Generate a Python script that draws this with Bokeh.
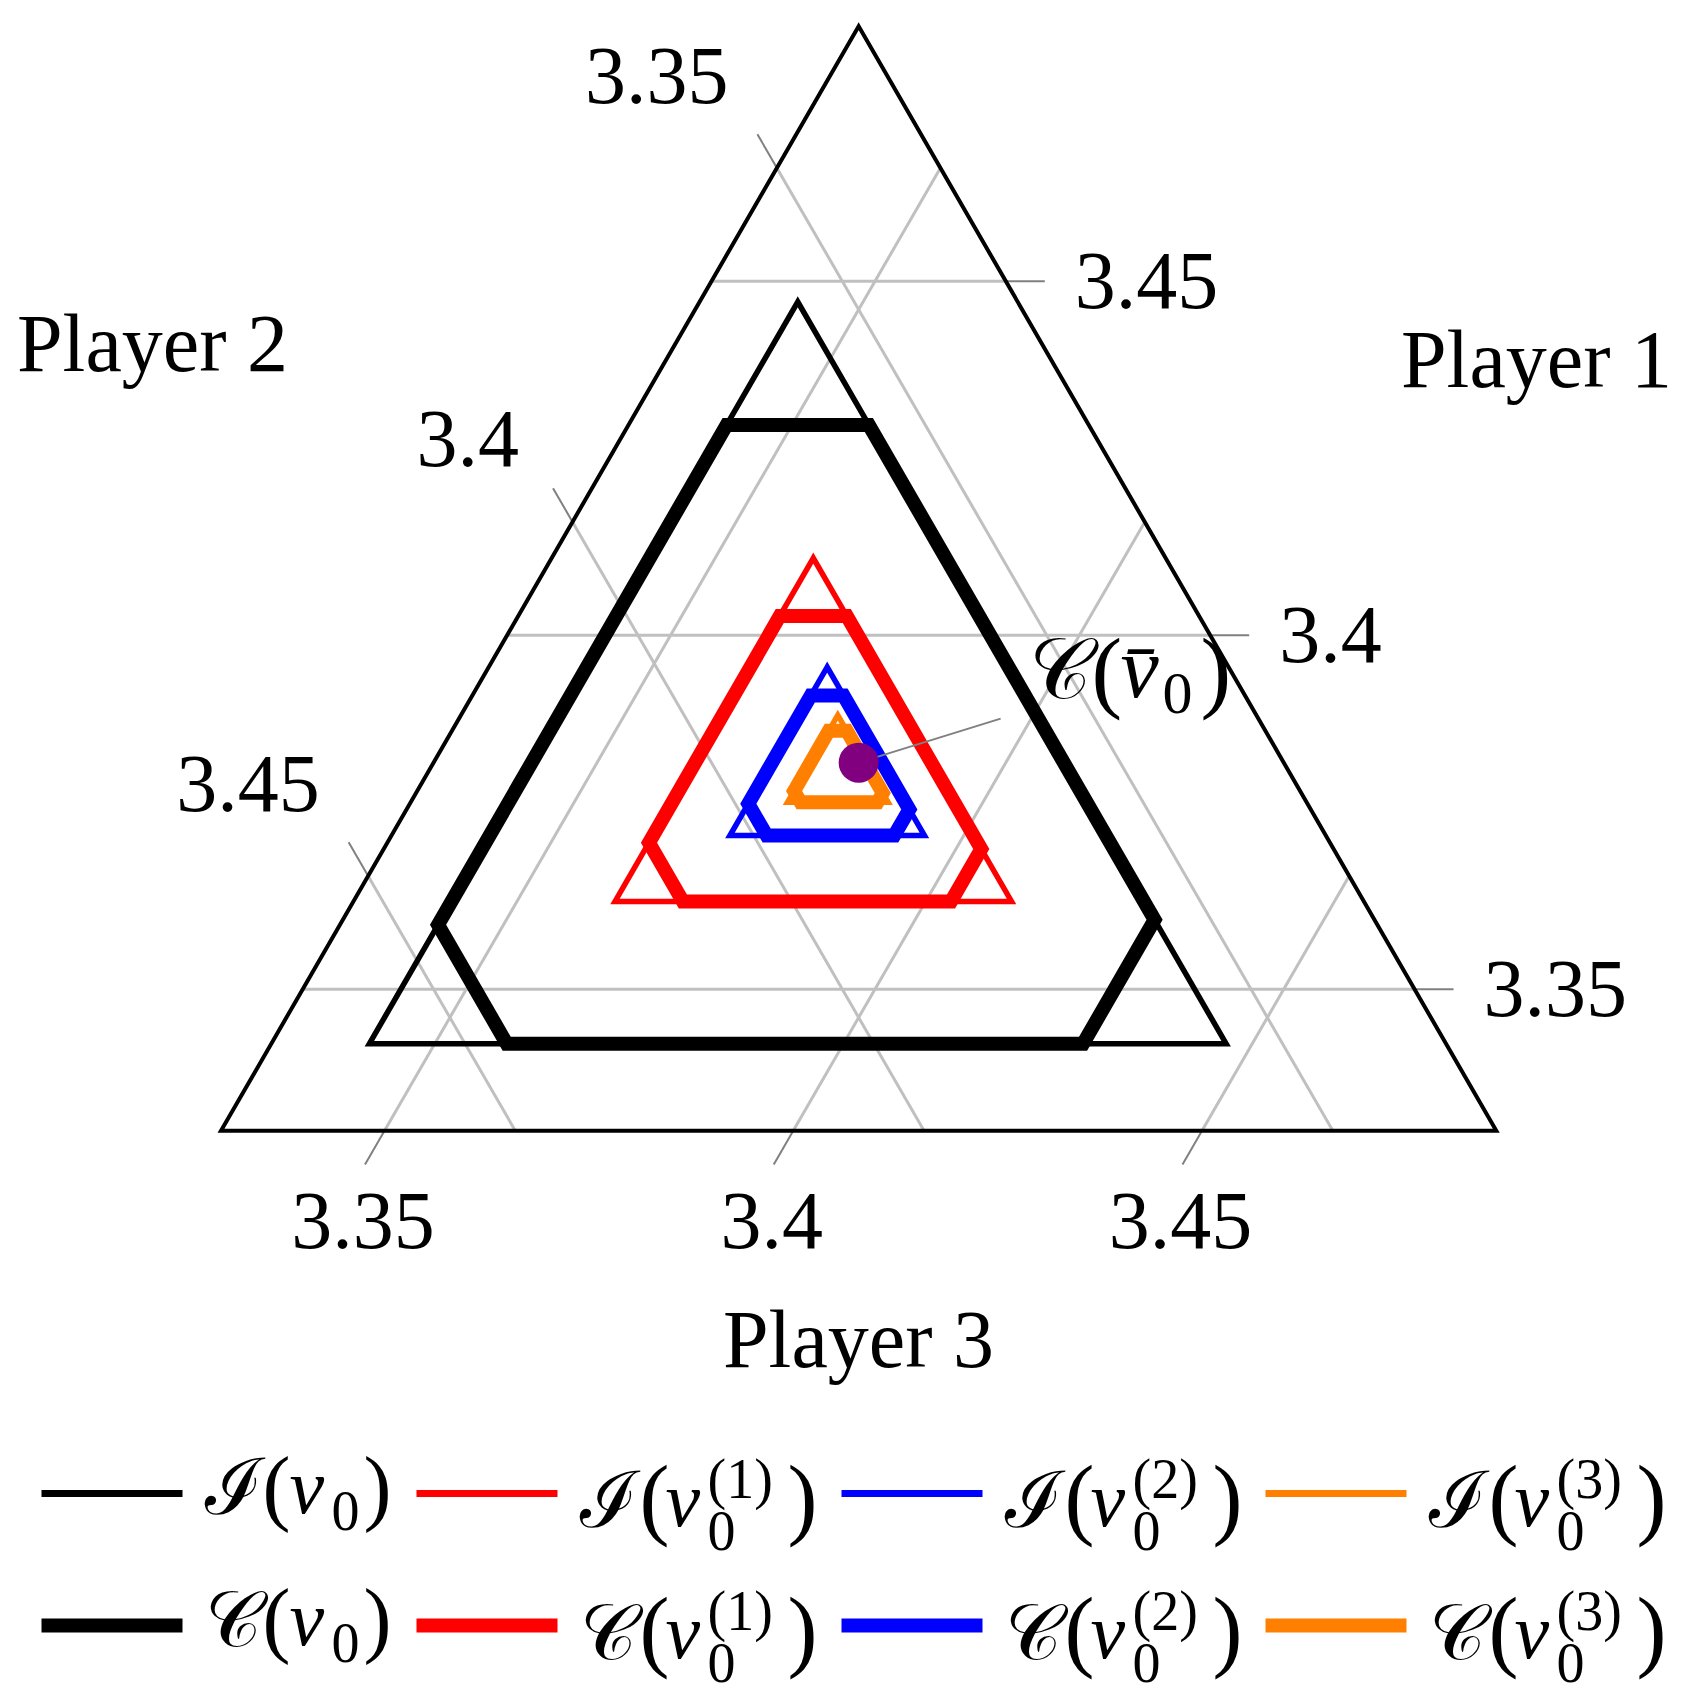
import numpy as np
from bokeh.plotting import figure
from bokeh.models import Range1d
from bokeh.core.properties import value
from bokeh.embed import file_html
from bokeh.resources import INLINE

# ---------------- data (payoffs of Player 1, Player 2, Player 3) ----------------
AX_MIN = 3.33          # value at the zero side of every ternary axis
AX_SPAN = 0.156        # axis span (p1 + p2 + p3 = 3*AX_MIN + AX_SPAN)
TICKS = [3.35, 3.40, 3.45]
TICK_LABELS = ["3.35", "3.4", "3.45"]

# imputation sets I(.) : vertices (Player-1 corner, Player-2 corner, Player-3 corner)
I_v0_p1 = [3.4471, 3.3423, 3.3423]
I_v0_p2 = [3.3569, 3.4617, 3.3569]
I_v0_p3 = [3.3420, 3.3420, 3.4468]
I_v1_p1 = [3.4109, 3.3624, 3.3624]
I_v1_p2 = [3.3731, 3.4216, 3.3731]
I_v1_p3 = [3.3620, 3.3620, 3.4105]
I_v2_p1 = [3.3955, 3.3717, 3.3717]
I_v2_p2 = [3.3791, 3.4029, 3.3791]
I_v2_p3 = [3.3714, 3.3714, 3.3952]
I_v3_p1 = [3.3887, 3.3764, 3.3764]
I_v3_p2 = [3.3812, 3.3935, 3.3812]
I_v3_p3 = [3.3761, 3.3761, 3.3884]

# cores C(.) : hexagon vertices
C_v0_p1 = [3.4297, 3.4297, 3.3598, 3.3423, 3.3423, 3.3591]
C_v0_p2 = [3.3743, 3.3569, 3.3569, 3.3744, 3.4449, 3.4449]
C_v0_p3 = [3.3420, 3.3594, 3.4293, 3.4293, 3.3588, 3.3420]
C_v1_p1 = [3.4027, 3.4027, 3.3698, 3.3624, 3.3624, 3.3707]
C_v1_p2 = [3.3813, 3.3731, 3.3731, 3.3805, 3.4133, 3.4133]
C_v1_p3 = [3.3620, 3.3702, 3.4031, 3.4031, 3.3703, 3.3620]
C_v2_p1 = [3.3915, 3.3915, 3.3754, 3.3717, 3.3717, 3.3762]
C_v2_p2 = [3.3831, 3.3791, 3.3791, 3.3828, 3.3984, 3.3984]
C_v2_p3 = [3.3714, 3.3754, 3.3915, 3.3915, 3.3759, 3.3714]
C_v3_p1 = [3.3865, 3.3865, 3.3777, 3.3764, 3.3764, 3.3780]
C_v3_p2 = [3.3834, 3.3812, 3.3812, 3.3825, 3.3919, 3.3919]
C_v3_p3 = [3.3761, 3.3783, 3.3871, 3.3871, 3.3777, 3.3761]

# core of v-bar_0 (single point)
CBAR_p1 = [3.3820]
CBAR_p2 = [3.3820]
CBAR_p3 = [3.3820]

SERIES_COLORS = ["#000000", "#ff0000", "#0000ff", "#ff8000"]
AXIS_TITLES = ["Player 1", "Player 2", "Player 3"]

# ---------------- geometry ----------------
SQ = np.sqrt(3) / 2
S = 1275.3             # px per triangle side
OX, OY = 220.5, 1130.3 # page position of the Player-2 corner
W, H = 1690, 1704

def to_xy(p1, p3):
    f1 = (np.asarray(p1, float) - AX_MIN) / AX_SPAN
    f3 = (np.asarray(p3, float) - AX_MIN) / AX_SPAN
    return list(f3 + 0.5 * f1), list(SQ * f1)

def pg(X, Y):
    return (X - OX) / S, (OY - Y) / S

p = figure(width=W, height=H, output_backend="svg", toolbar_location=None,
           x_range=Range1d((0 - OX) / S, (W - OX) / S),
           y_range=Range1d((OY - H) / S, (OY - 0) / S),
           min_border=0, x_axis_location=None, y_axis_location=None)
p.grid.visible = False
p.outline_line_color = None
p.background_fill_color = "white"
p.border_fill_color = "white"

SERIF = "Liberation Serif"
SCRIPT = "DejaVu Serif"

def txt(x, y, s, size, align="left", italic=False, font=SERIF, color="black"):
    """y is the vertical middle of the text (about the centre of digits/capitals)."""
    p.text(x=[x], y=[y], text=[s], text_font=value(font),
           text_font_size=f"{size}px", text_align=align,
           text_baseline="middle", text_color=color,
           text_font_style="italic" if italic else "normal")

def txtb(X, B, s, size, italic=False, font=SERIF):
    """place text by page x (left) and page baseline B."""
    x, y = pg(X, B - 0.34 * size)
    txt(x, y, s, size, "left", italic, font)

# ---------------- grid, ticks, tick labels ----------------
TL = 39 / S
FS = 82
for t, lab in zip(TICKS, TICK_LABELS):
    f = (t - AX_MIN) / AX_SPAN
    # Player 1 (horizontal lines)
    p.line([0.5 * f, 1 - 0.5 * f], [SQ * f, SQ * f], line_color="#c0c0c0", line_width=3)
    ex, ey = 1 - 0.5 * f, SQ * f
    p.line([ex, ex + TL], [ey, ey], line_color="#808080", line_width=2)
    txt(ex + TL + 30 / S, ey, lab, FS, "left")
    # Player 2 (parallel to right side)
    p.line([1 - f, 0.5 * (1 - f)], [0, SQ * (1 - f)], line_color="#c0c0c0", line_width=3)
    ex, ey = 0.5 * (1 - f), SQ * (1 - f)
    tx, ty = ex - 0.5 * TL, ey + SQ * TL
    p.line([ex, tx], [ey, ty], line_color="#808080", line_width=2)
    nd = sum(c.isdigit() for c in lab)
    w = FS * (0.5 * nd + 0.25)
    dist = (40 + 0.433 * w + 14) / S
    txt(tx - SQ * dist, ty + 0.5 * dist, lab, FS, "center")
    # Player 3 (parallel to left side)
    p.line([f, f + 0.5 * (1 - f)], [0, SQ * (1 - f)], line_color="#c0c0c0", line_width=3)
    ex, ey = f, 0
    tx, ty = ex - 0.5 * TL, ey - SQ * TL
    p.line([ex, tx], [ey, ty], line_color="#808080", line_width=2)
    txt(tx - 2 / S, ty - 56 / S, lab, FS, "center")

# outer triangle
p.patch([0, 1, 0.5], [0, 0, SQ], fill_color=None, line_color="black",
        line_width=4, line_join="miter")

# axis titles
txt(*pg(1536, 359), AXIS_TITLES[0], FS, "center")
txt(*pg(152, 343), AXIS_TITLES[1], FS, "center")
txt(*pg(858, 1339), AXIS_TITLES[2], FS, "center")

# ---------------- sets ----------------
I_sets = [(I_v0_p1, I_v0_p3), (I_v1_p1, I_v1_p3), (I_v2_p1, I_v2_p3), (I_v3_p1, I_v3_p3)]
C_sets = [(C_v0_p1, C_v0_p3), (C_v1_p1, C_v1_p3), (C_v2_p1, C_v2_p3), (C_v3_p1, C_v3_p3)]
THIN, THICK = 5.5, 14
for (ip1, ip3), (cp1, cp3), col in zip(I_sets, C_sets, SERIES_COLORS):
    xs, ys = to_xy(ip1, ip3)
    p.patch(xs, ys, fill_color=None, line_color=col, line_width=THIN, line_join="miter")
    xs, ys = to_xy(cp1, cp3)
    p.patch(xs, ys, fill_color=None, line_color=col, line_width=THICK, line_join="miter")

# C(v-bar_0) point with leader and label
dx, dy = to_xy(CBAR_p1, CBAR_p3)
p.line([dx[0], dx[0] + 142 / S], [dy[0], dy[0] + 44 / S], line_color="#808080", line_width=2)
p.scatter(dx, dy, size=40, fill_color="#800080", line_color=None)

AX0, AB0 = 1028, 697
txtb(AX0, AB0, "𝒞", 86, font=SCRIPT)
txtb(AX0 + 63, AB0 + 4, "(", 92)
txtb(AX0 + 92, AB0, "v\u0304", 86, italic=True)
txtb(AX0 + 134, AB0 + 16, "0", 60)
txtb(AX0 + 172, AB0 + 4, ")", 92)

# ---------------- legend ----------------
COL_X = [41, 416, 841, 1265]
ROW_Y = [1493, 1625]
LINE_LEN = 141
LETTERS = ["ℐ", "𝒞"]
for r, (ly, letter, lw) in enumerate(zip(ROW_Y, LETTERS, [THIN + 1.5, THICK])):
    for k, (cx0, col) in enumerate(zip(COL_X, SERIES_COLORS)):
        x0, y0 = pg(cx0, ly)
        x1, _ = pg(cx0 + LINE_LEN, ly)
        p.line([x0, x1], [y0, y0], line_color=col, line_width=lw)
        st = cx0 + LINE_LEN + 22
        if k == 0:
            B = ly + 20
            txtb(st, B, letter, 78, font=SCRIPT)
            txtb(st + 58, B + 2, "(", 84)
            txtb(st + 85, B, "v", 78, italic=True)
            txtb(st + 127, B + 17, "0", 56)
            txtb(st + 159, B + 2, ")", 84)
        else:
            B = ly + 33
            txtb(st, B, letter, 78, font=SCRIPT)
            txtb(st + 60, B + 2, "(", 90)
            txtb(st + 86, B, "v", 78, italic=True)
            txtb(st + 128, B + 24, "0", 56)
            txtb(st + 128, B - 28, f"({k})", 56)
            txtb(st + 208, B + 2, ")", 90)

open("out.html", "w").write(file_html(p, INLINE))
